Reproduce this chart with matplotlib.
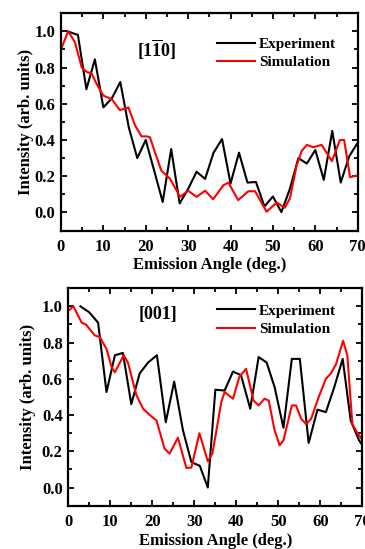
import numpy as np
import matplotlib.pyplot as plt
from matplotlib.ticker import MultipleLocator

plt.rcParams['font.family'] = ['Liberation Serif', 'DejaVu Serif']
plt.rcParams['font.weight'] = 'bold'
plt.rcParams['mathtext.fontset'] = 'custom'
plt.rcParams['mathtext.rm'] = 'Liberation Serif:bold'
plt.rcParams['mathtext.bf'] = 'Liberation Serif:bold'

# [1-10] azimuth
exp_110_x = [1.5, 4, 6, 8, 10, 12, 14, 16, 18, 20, 22, 24, 26, 28, 30, 32, 34, 36,
             38, 40, 42, 44, 46, 48, 50, 52, 54, 56, 58, 60, 62, 64, 66, 68, 70]
exp_110_y = [1.0, 0.98, 0.68, 0.845, 0.58, 0.63, 0.72, 0.47, 0.30, 0.40, 0.23, 0.058,
             0.35, 0.05, 0.13, 0.225, 0.185, 0.33, 0.405, 0.16, 0.33, 0.165, 0.168,
             0.033, 0.088, 0.002, 0.13, 0.30, 0.27, 0.345, 0.18, 0.45, 0.165, 0.31, 0.385]
sim_110_x = [0, 1.7, 3.3, 4.9, 6.1, 7.2, 8.4, 10, 12, 13.9, 15.9, 17.5, 19, 20.2, 21,
             22.2, 23.7, 25.7, 28.1, 30, 32, 34, 35.9, 38.3, 39.5, 41.8, 44.2, 45.8,
             48.5, 50.9, 52.8, 54, 55.6, 56.8, 58, 59.5, 61.5, 63.9, 65.8, 66.8, 68.2, 70]
sim_110_y = [0.9, 1.0, 0.94, 0.80, 0.775, 0.768, 0.71, 0.645, 0.625, 0.565, 0.58, 0.48,
             0.42, 0.42, 0.415, 0.33, 0.23, 0.187, 0.086, 0.12, 0.086, 0.12, 0.073, 0.15,
             0.165, 0.068, 0.117, 0.117, 0.004, 0.055, 0.026, 0.077, 0.26, 0.34, 0.373,
             0.36, 0.373, 0.283, 0.40, 0.40, 0.195, 0.205]

# [001] azimuth
exp_001_x = [2.9, 5, 7.1, 9.1, 11.1, 13, 15, 17, 19, 21.1, 23.2, 25.2, 27.3, 29.3, 31.3,
             33.2, 35, 37.2, 39.2, 41.1, 43.3, 45.3, 47.2, 49.1, 51.2, 53.2, 55.1, 57.2,
             59.3, 61.3, 63.3, 65.3, 67.2, 69.2, 70.4]
exp_001_y = [1.0, 0.967, 0.91, 0.527, 0.73, 0.743, 0.46, 0.63, 0.69, 0.73, 0.36, 0.585,
             0.315, 0.14, 0.12, 0.0, 0.54, 0.535, 0.64, 0.62, 0.435, 0.72, 0.69, 0.554,
             0.33, 0.71, 0.71, 0.246, 0.43, 0.416, 0.554, 0.71, 0.37, 0.26, 0.22]
sim_001_x = [0, 1.2, 3.2, 4.2, 6.3, 7.5, 9.1, 10.3, 11.1, 13.2, 14.2, 16.2, 17.8, 19.4,
             21, 22.9, 24.1, 26.1, 28.1, 29.3, 31.2, 33.2, 34.3, 36.4, 37.2, 39.2, 40.7,
             42.3, 44.1, 45.3, 46.7, 47.7, 49.1, 50.3, 51.2, 53.2, 54.2, 55.4, 56.6, 57.8,
             59.6, 61.3, 62.5, 63.7, 65.4, 66.4, 67.6, 68.8, 70.4]
sim_001_y = [0.976, 1.0, 0.91, 0.90, 0.84, 0.83, 0.765, 0.665, 0.636, 0.73, 0.69, 0.51,
             0.435, 0.40, 0.37, 0.215, 0.187, 0.275, 0.108, 0.11, 0.30, 0.145, 0.187,
             0.47, 0.527, 0.49, 0.61, 0.655, 0.48, 0.453, 0.49, 0.48, 0.315, 0.233, 0.26,
             0.453, 0.453, 0.38, 0.35, 0.38, 0.50, 0.60, 0.63, 0.68, 0.81, 0.73, 0.35,
             0.30, 0.25]


def plot_panel(ax, exp_x, exp_y, sim_x, sim_y, label, label_pos, legend_pos,
               ylabelpad=6, xlabelpad=1):
    """Draws one experiment/simulation comparison panel."""
    ax.plot(exp_x, exp_y, color='k', lw=1.5, label='Experiment')
    ax.plot(sim_x, sim_y, color='#ff0000', lw=1.5, label='Simulation')

    ax.set_xlim(0, 70)
    ax.set_ylim(-0.1, 1.1)
    ax.xaxis.set_major_locator(MultipleLocator(10))
    ax.xaxis.set_minor_locator(MultipleLocator(5))
    ax.yaxis.set_major_locator(MultipleLocator(0.2))
    ax.yaxis.set_minor_locator(MultipleLocator(0.1))
    ax.yaxis.set_major_formatter(plt.FormatStrFormatter('%.1f'))
    ax.tick_params(which='both', direction='in', top=True, right=True,
                   width=1.3, labelsize=12)
    ax.tick_params(axis='x', which='both', pad=6)
    ax.tick_params(axis='y', which='both', pad=4)
    ax.tick_params(which='major', length=4)
    ax.tick_params(which='minor', length=3)
    for sp in ax.spines.values():
        sp.set_linewidth(1.6)

    ax.set_xlabel('Emission Angle (deg.)', fontsize=12, fontweight='bold',
                  labelpad=xlabelpad)
    ax.set_ylabel('Intensity (arb. units)', fontsize=12, fontweight='bold',
                  labelpad=ylabelpad)

    ax.text(label_pos[0], label_pos[1], label, transform=ax.transAxes,
            fontsize=13, fontweight='bold', ha='center', va='center')
    ax.legend(loc='upper left', bbox_to_anchor=legend_pos, frameon=False,
              fontsize=11, handlelength=2.5, handletextpad=0.25,
              labelspacing=0.3, borderpad=0, borderaxespad=0)
    return ax


fig = plt.figure(figsize=(3.65, 5.49), dpi=100)
ax_top = fig.add_axes([0.167, 0.580, 0.813, 0.396])
ax_bot = fig.add_axes([0.187, 0.079, 0.806, 0.396])

plot_panel(ax_top, exp_110_x, exp_110_y, sim_110_x, sim_110_y,
           r'$[1\overline{1}0]$', (0.323, 0.830), (0.525, 0.888),
           ylabelpad=0.5, xlabelpad=1.5)
plot_panel(ax_bot, exp_001_x, exp_001_y, sim_001_x, sim_001_y,
           '[001]', (0.306, 0.879), (0.505, 0.928),
           ylabelpad=4.5, xlabelpad=2.5)

fig.savefig('out.png', dpi=100)
